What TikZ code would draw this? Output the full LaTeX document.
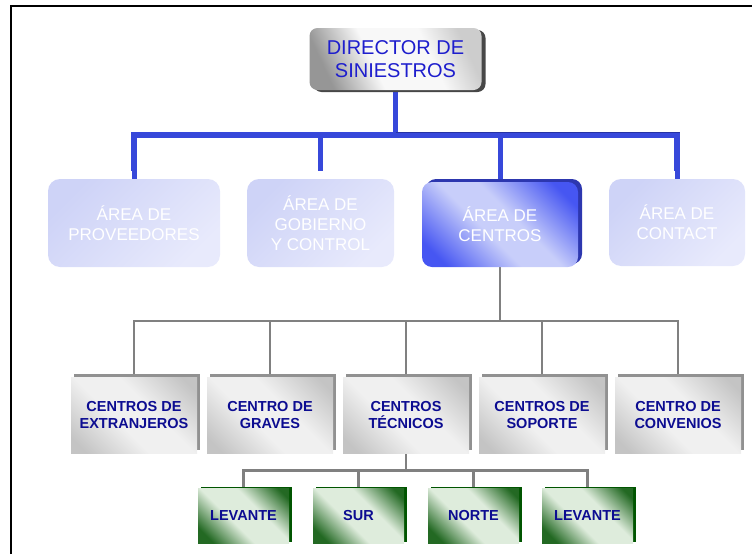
\documentclass[tikz,border=0pt]{standalone}
\usepackage{fontspec}
\setmainfont{Liberation Sans}
\usetikzlibrary{shadows,backgrounds,calc}
\definecolor{dirblue}{RGB}{30,30,205}
\definecolor{navy}{RGB}{12,12,145}
\definecolor{barblue}{RGB}{55,72,218}
\definecolor{bardark}{RGB}{38,50,165}
\definecolor{fadeA}{RGB}{206,211,247}
\definecolor{fadeB}{RGB}{232,234,252}
\definecolor{cD}{RGB}{70,86,242}
\definecolor{cL}{RGB}{200,206,250}
\definecolor{cEdge}{RGB}{45,55,175}
\definecolor{gD}{RGB}{196,196,196}
\definecolor{gL}{RGB}{240,240,240}
\definecolor{gEdge}{RGB}{145,145,145}
\definecolor{grD}{RGB}{35,105,35}
\definecolor{grL}{RGB}{222,236,220}
\definecolor{grEdge}{RGB}{0,85,0}
\definecolor{linegray}{RGB}{128,128,128}
\definecolor{dirA}{RGB}{150,150,150}
\definecolor{dirB}{RGB}{248,248,248}
\definecolor{dirC}{RGB}{205,205,205}
\pgfdeclareverticalshading{graydiag}{100bp}{color(0bp)=(gD); color(20bp)=(gD); color(42bp)=(gL); color(58bp)=(gL); color(80bp)=(gD); color(100bp)=(gD)}
\pgfdeclareverticalshading{greendiag}{100bp}{color(0bp)=(grD); color(22bp)=(grD); color(42bp)=(grL); color(60bp)=(grL); color(80bp)=(grD); color(100bp)=(grD)}
\pgfdeclareverticalshading{bluediag}{100bp}{color(0bp)=(cD); color(22bp)=(cD); color(44bp)=(cL); color(56bp)=(cL); color(78bp)=(cD); color(100bp)=(cD)}
\pgfdeclarehorizontalshading{dirshade}{100bp}{color(0bp)=(dirA); color(25bp)=(dirA); color(42bp)=(dirB); color(62bp)=(dirB); color(75bp)=(dirC); color(100bp)=(dirC)}
\tikzset{
  dirbox/.style={rounded corners=8pt, minimum width=172pt, minimum height=62pt, inner sep=0pt,
    shading=dirshade, shading angle=25, text=dirblue, align=center,
    font=\fontsize{20}{23}\selectfont,
    general shadow={fill=black!72, shadow xshift=4pt, shadow yshift=-2pt, rounded corners=8pt}},
  fadebox/.style={rounded corners=12pt, inner sep=0pt, minimum height=88pt,
    top color=fadeA, bottom color=fadeB, shading angle=45, text=white, align=center,
    font=\fontsize{17}{20}\selectfont},
  cenbox/.style={rounded corners=10pt, inner sep=0pt, minimum width=156pt, minimum height=85pt,
    shading=bluediag, shading angle=-45, text=white, align=center,
    font=\fontsize{17}{20}\selectfont,
    general shadow={fill=cEdge, shadow xshift=4pt, shadow yshift=3pt, rounded corners=10pt}},
  graybox/.style={inner sep=0pt, minimum width=126pt, minimum height=76pt,
    shading=graydiag, shading angle=-45, text=navy, align=center,
    font=\fontsize{14.5}{17}\selectfont\bfseries,
    general shadow={fill=gEdge, shadow xshift=3pt, shadow yshift=3pt}},
  greenbox/.style={inner sep=0pt, minimum width=91pt, minimum height=55pt,
    shading=greendiag, shading angle=-45, text=navy, align=center,
    font=\fontsize{14.5}{17}\selectfont\bfseries,
    general shadow={fill=grEdge, shadow xshift=3pt, shadow yshift=1.5pt}},
  bluebar/.style={draw=barblue, line width=6pt},
  bluestem/.style={draw=barblue, line width=5pt},
  grayline/.style={draw=linegray, line width=2.5pt},
  frame/.style={draw=black, line width=2.2pt}
}
\begin{document}
\begin{tikzpicture}[x=1pt, y=-1pt]
\useasboundingbox (0,0) rectangle (752,554);
\draw[frame] (11,554) -- (11,6) -- (752,6);

% top
\node[dirbox] (dir) at (395.5,59) {DIRECTOR DE\\SINIESTROS};

% areas
\node[fadebox, minimum width=172pt] (prov) at (134,223) {ÁREA DE\\PROVEEDORES};
\node[fadebox, minimum width=147pt] (gob) at (320.5,223) {ÁREA DE\\GOBIERNO\\Y CONTROL};
\node[cenbox] (cen) at (500,224.5) {ÁREA DE\\CENTROS};
\node[fadebox, minimum width=136pt, minimum height=87pt] (cont) at (677,222.5) {ÁREA DE\\CONTACT};

% centros
\node[graybox] (b1) at (134,415) {CENTROS DE\\EXTRANJEROS};
\node[graybox] (b2) at (270,415) {CENTRO DE\\GRAVES};
\node[graybox] (b3) at (406,415) {CENTROS\\TÉCNICOS};
\node[graybox] (b4) at (542,415) {CENTROS DE\\SOPORTE};
\node[graybox] (b5) at (678,415) {CENTRO DE\\CONVENIOS};

% zonas
\node[greenbox] (z1) at (243.5,515.5) {LEVANTE};
\node[greenbox] (z2) at (358.5,515.5) {SUR};
\node[greenbox] (z3) at (473.5,515.5) {NORTE};
\node[greenbox] (z4) at (587.5,515.5) {LEVANTE};

\begin{pgfonlayer}{background}
  \coordinate (lvA) at (0,135);
  \coordinate (lvB) at (0,321);
  \coordinate (lvC) at (0,470.5);
  \coordinate (hub) at (dir.south |- lvA);
  \draw[bluestem] (dir.south) -- (hub);
  \draw[bluebar] ($(prov.north)+(0,-8)$) |- (hub) -| ($(cont.north)+(0,-8)$);
  \draw[bluestem] ($(gob.north)+(0,-8)$) -- (gob.north |- hub);
  \draw[bluestem] (cen.north) -- (cen.north |- hub);
  \draw[bluestem] (prov.north) -- ++(0,-10);
  \draw[bluestem] (cont.north) -- ++(0,-10);
  \draw[draw=bardark, line width=1.5pt] ($(hub)+(0,-2.5)$) -- ($(cont.north |- hub)+(2.5,-2.5)$);
  \coordinate (g1) at (cen.south |- lvB);
  \draw[grayline] (cen.south) -- (g1);
  \draw[grayline] (b1.north) |- (g1) -| (b5.north);
  \draw[grayline] (b2.north) -- (b2.north |- g1);
  \draw[grayline] (b3.north) -- (b3.north |- g1);
  \draw[grayline] (b4.north) -- (b4.north |- g1);
  \coordinate (g2) at (b3.south |- lvC);
  \draw[grayline] (b3.south) -- (g2);
  \draw[grayline] (z1.north) |- (g2) -| (z4.north);
  \draw[grayline] (z2.north) -- (z2.north |- g2);
  \draw[grayline] (z3.north) -- (z3.north |- g2);
\end{pgfonlayer}
\end{tikzpicture}
\end{document}
